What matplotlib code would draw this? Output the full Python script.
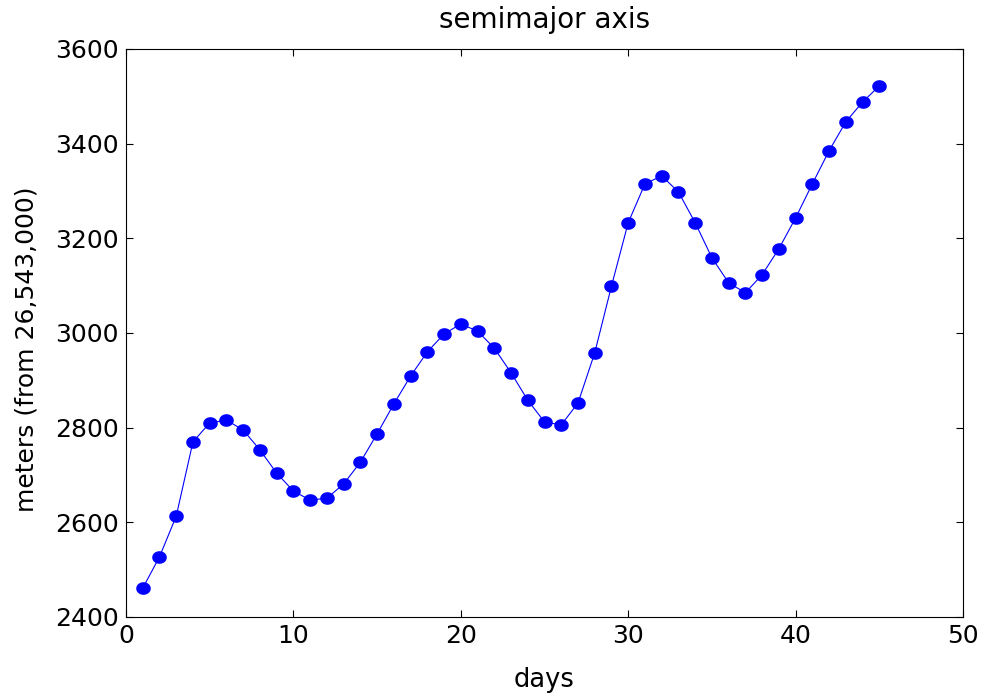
import matplotlib
matplotlib.use('Agg')
import matplotlib.pyplot as plt
import numpy as np

plt.rcParams['font.family'] = ['DejaVu Sans']

# 数据:天数和半长轴(相对 26,543,000 m)
days = list(range(1, 46))
meters = [2461, 2527, 2613, 2770, 2810, 2816, 2795, 2753, 2704, 2666,
          2647, 2651, 2681, 2727, 2787, 2850, 2909, 2960, 2998, 3019,
          3004, 2968, 2916, 2858, 2812, 2806, 2852, 2958, 3099, 3233,
          3315, 3332, 3298, 3233, 3159, 3106, 3085, 3123, 3178, 3243,
          3315, 3385, 3446, 3488, 3522]

# 椭圆形的点标记(略宽于高)
t = np.linspace(0, 2 * np.pi, 40)
ellipse = np.column_stack((np.cos(t), 0.85 * np.sin(t)))

fig = plt.figure(figsize=(9.81, 6.96), dpi=100)
ax = fig.add_axes([126 / 981, 1 - 617 / 696, (963 - 126) / 981, (617 - 49) / 696])

ax.plot(days, meters, color='blue', linewidth=0.8, marker=ellipse,
        markersize=9.5, markerfacecolor='blue', markeredgecolor='blue')

ax.set_xlim(0, 50)
ax.set_ylim(2400, 3600)
ax.set_xticks([0, 10, 20, 30, 40, 50])
ax.set_yticks([2400, 2600, 2800, 3000, 3200, 3400, 3600])
ax.tick_params(direction='in', top=True, right=True, labelsize=18, length=5, pad=5)

ax.set_title('semimajor axis', fontsize=20, pad=15)
ax.set_xlabel('days', fontsize=18.5, labelpad=14)
ax.set_ylabel('meters (from 26,543,000)', fontsize=18)
ax.yaxis.set_label_coords(-0.105, 0.472)

fig.savefig('out.png', dpi=100)
